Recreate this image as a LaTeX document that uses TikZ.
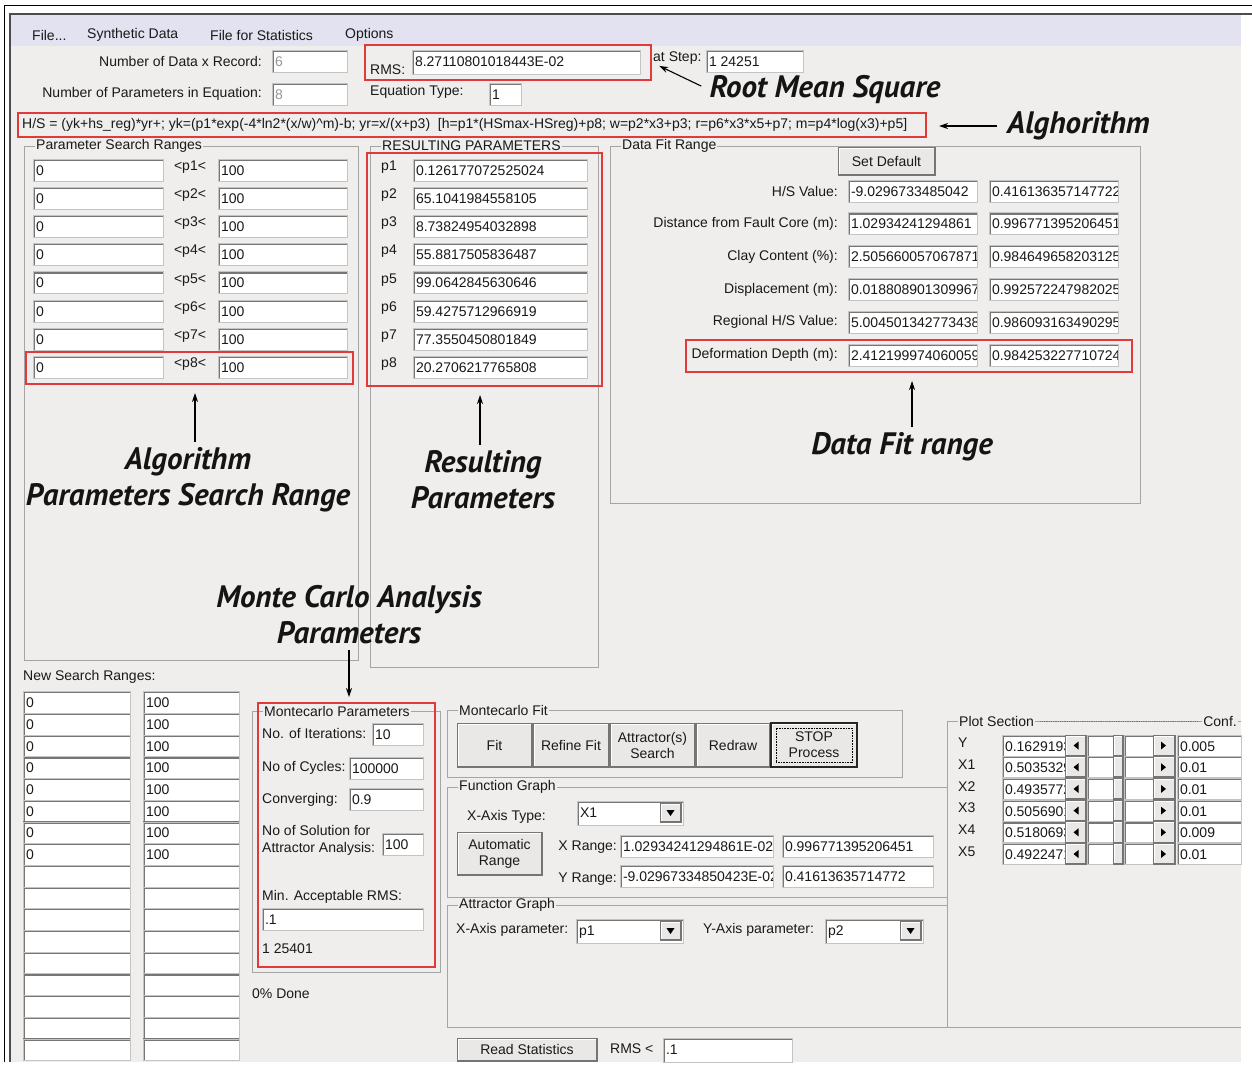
\documentclass[tikz,border=0pt]{standalone}
\usepackage{fontspec}
\setmainfont{Liberation Sans}
\newfontfamily\notefont{PT Sans}
\usetikzlibrary{positioning,fit,calc,arrows.meta}

\definecolor{winbg}{RGB}{240,238,236}
\definecolor{menubg}{RGB}{226,226,240}
\definecolor{edgedark}{RGB}{118,118,118}
\definecolor{edgelight}{RGB}{196,196,196}
\definecolor{framegray}{RGB}{165,165,165}
\definecolor{btnface}{RGB}{234,232,230}
\definecolor{markred}{RGB}{226,58,56}
\definecolor{greytext}{RGB}{150,150,150}

% sunken / raised edges of the window controls
\newcommand{\fieldedges}{%
  \draw[edgedark, line width=3.5pt] (path picture bounding box.south west)
    -- (path picture bounding box.north west) -- (path picture bounding box.north east);}
\newcommand{\btnedges}{%
  \draw[white, line width=3pt] (path picture bounding box.south west)
    -- (path picture bounding box.north west) -- (path picture bounding box.north east);
  \draw[black!55, line width=2.5pt] (path picture bounding box.north east)
    -- (path picture bounding box.south east) -- (path picture bounding box.south west);}

\tikzset{
  gui/.style={font=\fontsize{14}{16}\selectfont, inner sep=0pt, text=black!90},
  field/.style={rectangle, fill=white, draw=edgelight, line width=0.8pt,
    inner sep=0pt, outer sep=0pt, minimum height=22pt},
  fieldtext/.style={gui, anchor=base west, draw=none, fill=none,
    minimum width=0pt, minimum height=0pt, outer sep=0pt},
  button/.style={rectangle, fill=btnface, draw=edgedark, line width=0.8pt,
    gui, align=center, outer sep=0pt, path picture={\btnedges}},
  grouptitle/.style={gui, fill=winbg, anchor=west, inner xsep=1pt},
  groupline/.style={draw=framegray, line width=0.8pt},
  marker/.style={draw=markred, line width=2pt, inner sep=0pt},
  note/.style={font=\notefont\bfseries\itshape\fontsize{31}{36}\selectfont,
    align=center, inner sep=0pt, text=black!92},
  pointer/.style={-{Stealth[length=9pt,width=6pt]}, line width=1.1pt},
}

% text box: [options]{name}{x}{y top}{width}{text}
\newcommand{\guifield}[6][]{%
  \node[field, minimum width=#5pt, anchor=north west, #1,
    path picture={\fieldedges
      \node[fieldtext] at ([xshift=3pt,yshift=-16pt]path picture bounding box.north west) {#6};}]
    (#2) at (#3,#4) {};}
% combo box: {name}{x}{y top}{width}{text}
\newcommand{\guicombo}[5]{%
  \guifield[minimum height=24pt]{#1}{#2}{#3}{#4}{#5}
  \node[button, minimum width=21pt, minimum height=19pt, anchor=north east,
    path picture={\btnedges
      \fill[black] ([yshift=-3pt]path picture bounding box.center) -- ++(-4pt,6pt) -- ++(8pt,0pt) -- cycle;}]
    (#1btn) at ([xshift=-2pt,yshift=-2.5pt]#1.north east) {};}
% group frame: {name}{x1}{y1}{x2}{y2}{title}
\newcommand{\guigroup}[6]{%
  \draw[groupline] (#2,#3) rectangle (#4,#5);
  \node[grouptitle] (#1) at (#2+11,#3) {#6};}

\begin{document}
\begin{tikzpicture}[x=1pt, y=-1pt]
\useasboundingbox (0,0) rectangle (1252,1066);
\fill[white] (0,0) rectangle (1252,1066);

% window and menu bar
\fill[winbg] (11,15) rectangle (1241,1062);
\fill[menubg] (11,15) rectangle (1241,46);
\draw[black, line width=1pt] (4,1062) -- (4,5) -- (1252,5);
\draw[black!70, line width=2pt] (10,1062) -- (10,14) -- (1252,14);

\node[gui, anchor=west] (mfile) at (32,35) {File...};
\node[gui, anchor=west] (msynth) at (87,35) {Synthetic Data};
\node[gui, anchor=west] (mstat) at (210,35) {File for Statistics};
\node[gui, anchor=west] (mopt) at (345,35) {Options};

% header fields
\guifield{ndata}{272}{50}{75}{\color{greytext}6}
\node[gui, left=10pt of ndata] (ndatalbl) {Number of Data x Record:};
\guifield{npar}{272}{83}{75}{\color{greytext}8}
\node[gui, left=10pt of npar] (nparlbl) {Number of Parameters in Equation:};

\node[gui, anchor=base west] (rmslbl) at (370,74) {RMS:};
\guifield[minimum height=24pt]{rmsval}{412}{50}{228}{8.27110801018443E-02}
\node[marker, fit={(365,45) (651,80)}] (rmsmark) {};
\node[gui, anchor=west] (steplbl) at (653,58) {at Step:};
\guifield{stepval}{706}{50}{97}{1 24251}
\node[gui, anchor=west] (eqlbl) at (370,92) {Equation Type:};
\guifield{eqtype}{489}{83}{32}{1}

\node[note] (rmsnote) at (825,90) {Root Mean Square};
\draw[pointer, shorten <=9pt, shorten >=8pt] (rmsnote.west) -- (rmsmark.east);

% equation line
\node[gui, anchor=west] (algtext) at (22,125) {H/S = (yk+hs\_reg)*yr+; yk=(p1*exp(-4*ln2*(x/w)\textasciicircum m)-b; yr=x/(x+p3)\ \ [h=p1*(HSmax-HSreg)+p8; w=p2*x3+p3; r=p6*x3*x5+p7; m=p4*log(x3)+p5]};
\node[marker, fit={(18,113) (926,137)}] (algmark) {};
\node[note, anchor=west] (algnote) at (1007,126) {Alghorithm};
\draw[pointer, shorten <=10pt, shorten >=12pt] (algnote.west) -- (algnote.west -| algmark.east);

% parameter search ranges
\guigroup{psr}{24}{146}{358}{660}{Parameter Search Ranges}
\foreach \i in {1,...,8}{
  \pgfmathsetmacro\rowy{159+28.2*(\i-1)}
  \guifield{lo\i}{33}{\rowy}{130}{0}
  \node[gui] (pr\i) at (190,\rowy+8) {<p\i<};
  \guifield{hi\i}{218}{\rowy}{129}{100}
}
\node[marker, fit={(26,352) (353,384)}] (p8mark) {};
\node[note] (algrnote) at (188,480) {Algorithm\\Parameters Search Range};
\coordinate (algrtip) at ([xshift=7pt]algrnote.north);
\draw[pointer, shorten <=6pt, shorten >=8pt] (algrtip) -- (algrtip |- p8mark.south);

% resulting parameters
\guigroup{res}{370}{146}{598}{667}{RESULTING PARAMETERS}
\foreach \i/\v in {1/0.126177072525024, 2/65.1041984558105, 3/8.73824954032898,
    4/55.8817505836487, 5/99.0642845630646, 6/59.4275712966919,
    7/77.3550450801849, 8/20.2706217765808}{
  \pgfmathsetmacro\rowy{159+28.2*(\i-1)}
  \node[gui] (pl\i) at (389,\rowy+8) {p\i};
  \guifield{pv\i}{413}{\rowy}{174}{\v}
}
\node[marker, fit={(367,153) (602,386)}] (resmark) {};
\node[note] (resnote) at (483,480) {Resulting\\Parameters};
\coordinate (restip) at ([xshift=-3pt]resnote.north);
\draw[pointer, shorten <=6pt, shorten >=8pt] (restip) -- (restip |- resmark.south);

% data fit range
\guigroup{dfr}{610}{146}{1140}{503}{Data Fit Range}
\node[button, minimum width=97pt, minimum height=28pt, anchor=north west] (setdef) at (838,147) {Set Default};
\foreach \i/\lab/\va/\vb in {1/{H/S Value:}/-9.0296733485042/0.416136357147722,
    2/{Distance from Fault Core (m):}/1.02934241294861/0.996771395206451,
    3/{Clay Content (\%):}/2.505660057067871/0.984649658203125,
    4/{Displacement (m):}/0.018808901309967/0.992572247982025,
    5/{Regional H/S Value:}/5.004501342773438/0.986093163490295,
    6/{Deformation Depth (m):}/2.412199974060059/0.984253227710724}{
  \pgfmathsetmacro\rowy{180+32.8*(\i-1)}
  \guifield{dv\i}{848}{\rowy}{129}{\va}
  \guifield{dw\i}{989}{\rowy}{129}{\vb}
  \node[gui, left=10pt of dv\i] (dl\i) {\lab};
}
\node[marker, fit={(686,340) (1132,372)}] (dfmark) {};
\node[note] (dfnote) at (902,447) {Data Fit range};
\coordinate (dftip) at ([xshift=10pt]dfnote.north);
\draw[pointer, shorten <=6pt, shorten >=8pt] (dftip) -- (dftip |- dfmark.south);

% new search ranges
\node[gui, anchor=west] (nsr) at (23,677) {New Search Ranges:};
\foreach \i in {1,...,17}{
  \pgfmathsetmacro\rowy{691.7+21.7*(\i-1)}
  \ifnum\i<9
    \guifield[minimum height=21.7pt]{nlo\i}{23}{\rowy}{107}{0}
    \guifield[minimum height=21.7pt]{nhi\i}{143}{\rowy}{96}{100}
  \else
    \guifield[minimum height=21.7pt]{nlo\i}{23}{\rowy}{107}{}
    \guifield[minimum height=21.7pt]{nhi\i}{143}{\rowy}{96}{}
  \fi
}

% montecarlo parameters
\guigroup{mcp}{252}{711}{440}{972}{Montecarlo Parameters}
\node[gui, anchor=base west] (itlbl) at (262,738) {No. of Iterations:};
\guifield{iter}{372}{723}{51}{10}
\node[gui, anchor=base west] (cyclbl) at (262,771) {No of Cycles:};
\guifield{cycles}{349}{757}{74}{100000}
\node[gui, anchor=base west] (convlbl) at (262,803) {Converging:};
\guifield{conv}{349}{788}{74}{0.9}
\node[gui, anchor=base west] (sol1) at (262,835) {No of Solution for};
\node[gui, anchor=base west] (sol2) at (262,852) {Attractor Analysis:};
\guifield{nsol}{382}{833}{41}{100}
\node[gui, anchor=base west] (minlbl) at (262,900) {Min. Acceptable RMS:};
\guifield{minrms}{262}{908}{161}{.1}
\node[gui, anchor=base west] (cnt) at (262,953) {1 25401};
\node[marker, fit={(258,703) (435,967)}] (mcmark) {};
\node[gui, anchor=base west] (done) at (252,998) {0\% Done};
\node[note] (mcnote) at (349,615) {Monte Carlo Analysis\\Parameters};
\draw[pointer, shorten <=6pt, shorten >=5pt] (mcnote.south) -- (mcnote.south |- mcmark.north);

% montecarlo fit buttons
\guigroup{mcf}{447}{710}{902}{777}{Montecarlo Fit}
\node[button, minimum width=75pt, minimum height=44pt, anchor=north west] (fitbtn) at (457,723) {Fit};
\node[button, minimum width=76pt, minimum height=44pt, right=1pt of fitbtn] (refbtn) {Refine Fit};
\node[button, minimum width=85pt, minimum height=44pt, right=1pt of refbtn] (attbtn) {Attractor(s)\\Search};
\node[button, minimum width=74pt, minimum height=44pt, right=1pt of attbtn] (drawbtn) {Redraw};
\node[button, minimum width=86pt, minimum height=44pt, right=1pt of drawbtn, draw=black!85, line width=1.6pt,
  path picture={\btnedges
    \draw[black, densely dotted, line width=0.6pt] ([shift={(5pt,5pt)}]path picture bounding box.south west)
      rectangle ([shift={(-5pt,-5pt)}]path picture bounding box.north east);}] (stopbtn) {STOP\\Process};

% function graph
\guigroup{fng}{447}{787}{947}{897}{Function Graph}
\node[gui, anchor=base west] (xtlbl) at (467,820) {X-Axis Type:};
\guicombo{xtype}{577}{801}{106}{X1}
\node[button, minimum width=85pt, minimum height=43pt, anchor=north west] (autobtn) at (457,832) {Automatic\\Range};
\node[gui, anchor=base east] (xrlbl) at (617,850) {X Range:};
\guifield{xra}{620}{835}{153}{1.02934241294861E-02}
\guifield{xrb}{782}{835}{151}{0.996771395206451}
\node[gui, anchor=base east] (yrlbl) at (617,882) {Y Range:};
\guifield{yra}{620}{865}{153}{-9.02967334850423E-02}
\guifield{yrb}{782}{865}{151}{0.41613635714772}

% attractor graph
\guigroup{atg}{447}{905}{947}{1027}{Attractor Graph}
\node[gui, anchor=base west] (axlbl) at (456,933) {X-Axis parameter:};
\guicombo{axpar}{576}{919}{107}{p1}
\node[gui, anchor=base west] (aylbl) at (703,933) {Y-Axis parameter:};
\guicombo{aypar}{825}{919}{98}{p2}

\node[button, minimum width=140pt, minimum height=23pt, anchor=north west] (readbtn) at (457,1038) {Read Statistics};
\node[gui, anchor=base west] (rmsltlbl) at (610,1053) {RMS <};
\guifield[minimum height=24pt]{rmslt}{663}{1038}{129}{.1}

% plot section
\draw[groupline] (1241,721) -- (947,721) -- (947,1027) -- (1241,1027);
\node[grouptitle] (plot) at (958,721) {Plot Section};
\node[grouptitle, anchor=east] (conf) at (1238,721) {Conf.};
\draw[edgedark, densely dotted, line width=0.8pt] ([xshift=5pt]plot.east) -- ([xshift=-4pt]conf.west);
\foreach \i/\lab/\v/\cf in {1/Y/0.16291934/0.005, 2/X1/0.50353298/0.01, 3/X2/0.49357721/0.01,
    4/X3/0.50569012/0.01, 5/X4/0.51806934/0.009, 6/X5/0.49224712/0.01}{
  \pgfmathsetmacro\rowy{735+21.7*(\i-1)}
  \node[gui, anchor=west] (sec\i) at (958,\rowy+8) {\lab};
  \guifield[minimum height=21pt]{sv\i}{1002}{\rowy}{63}{\v}
  \node[button, minimum width=21pt, minimum height=21pt, anchor=north west,
    path picture={\btnedges
      \fill[black] ([xshift=-2pt]path picture bounding box.center) -- ++(5pt,4pt) -- ++(0pt,-8pt) -- cycle;}]
    (sl\i) at (1065,\rowy) {};
  \guifield[minimum height=21pt]{sa\i}{1087}{\rowy}{26}{}
  \node[button, minimum width=10pt, minimum height=21pt, anchor=north west] (sk\i) at (1113,\rowy) {};
  \guifield[minimum height=21pt]{sb\i}{1124}{\rowy}{29}{}
  \node[button, minimum width=22pt, minimum height=21pt, anchor=north west,
    path picture={\btnedges
      \fill[black] ([xshift=2pt]path picture bounding box.center) -- ++(-5pt,4pt) -- ++(0pt,-8pt) -- cycle;}]
    (sr\i) at (1153,\rowy) {};
  \guifield[minimum height=21pt]{cf\i}{1177}{\rowy}{64}{\cf}
}
\end{tikzpicture}
\end{document}
